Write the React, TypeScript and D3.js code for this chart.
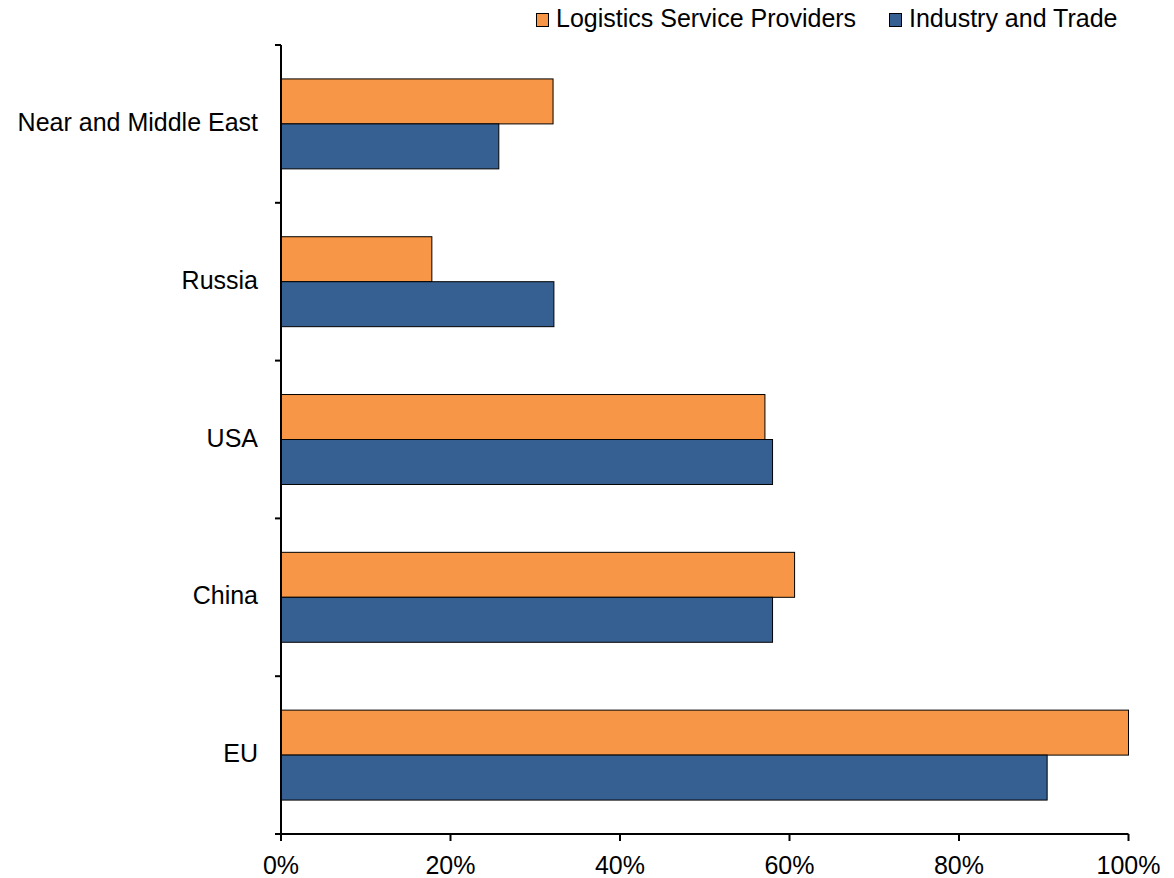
import React from "react";
import * as d3 from "d3";

const categories = ["Near and Middle East", "Russia", "USA", "China", "EU"];
const seriesNames = ["Logistics Service Providers", "Industry and Trade"];
const logisticsValues = [32.1, 17.8, 57.1, 60.6, 100];
const industryValues = [25.7, 32.2, 58.0, 58.0, 90.4];
const xTicks = [0, 20, 40, 60, 80, 100];
const colors = ["#F79646", "#376092"];

const W = 1174;
const H = 878;
const left = 281;
const right = 1128.5;
const top = 45;
const bottom = 834;
const FONT = "'Liberation Sans', Arial, sans-serif";
const FS = 25;

export default function App() {
  const x = d3.scaleLinear().domain([0, 100]).range([left, right]);
  const y = d3
    .scaleBand<string>()
    .domain(categories)
    .range([top, bottom])
    .paddingInner(0.43)
    .paddingOuter(0.215);
  const sub = d3.scaleBand<string>().domain(seriesNames).range([0, y.bandwidth()]);
  const seriesValues = [logisticsValues, industryValues];
  const boundaries = d3.range(categories.length + 1).map((i) => top + i * y.step());

  return (
    <svg
      width={W}
      height={H}
      style={{ position: "absolute", left: 0, top: 0, background: "#fff" }}
      fontFamily={FONT}
    >
      {/* bars */}
      {categories.map((c, ci) =>
        seriesNames.map((s, si) => {
          const v = seriesValues[si][ci];
          return (
            <rect
              key={c + s}
              x={x(0)}
              y={(y(c) as number) + (sub(s) as number)}
              width={x(v) - x(0)}
              height={sub.bandwidth()}
              fill={colors[si]}
              stroke="#000"
              strokeWidth={1}
            />
          );
        })
      )}
      {/* y axis */}
      <line x1={left} x2={left} y1={top} y2={bottom} stroke="#000" strokeWidth={2} />
      {boundaries.map((b, i) => (
        <line key={"yt" + i} x1={left - 6} x2={left} y1={b} y2={b} stroke="#000" strokeWidth={2} />
      ))}
      {categories.map((c) => (
        <text
          key={"yl" + c}
          x={258}
          y={(y(c) as number) + y.bandwidth() / 2 + 7}
          textAnchor="end"
          fontSize={FS}
          fill="#000"
        >
          {c}
        </text>
      ))}
      {/* x axis */}
      <line x1={left - 6} x2={right} y1={bottom} y2={bottom} stroke="#000" strokeWidth={2} />
      {xTicks.map((t) => (
        <g key={"xt" + t}>
          <line x1={x(t)} x2={x(t)} y1={bottom} y2={bottom + 7} stroke="#000" strokeWidth={2} />
          <text x={x(t)} y={874} textAnchor="middle" fontSize={FS} fill="#000">
            {t + "%"}
          </text>
        </g>
      ))}
      {/* legend */}
      <rect x={536.5} y={13.5} width={12} height={13} fill={colors[0]} stroke="#000" strokeWidth={1} />
      <text x={556} y={27} fontSize={FS} fill="#000">
        {seriesNames[0]}
      </text>
      <rect x={889.5} y={13.5} width={12} height={13} fill={colors[1]} stroke="#000" strokeWidth={1} />
      <text x={909} y={27} fontSize={FS} fill="#000">
        {seriesNames[1]}
      </text>
    </svg>
  );
}
